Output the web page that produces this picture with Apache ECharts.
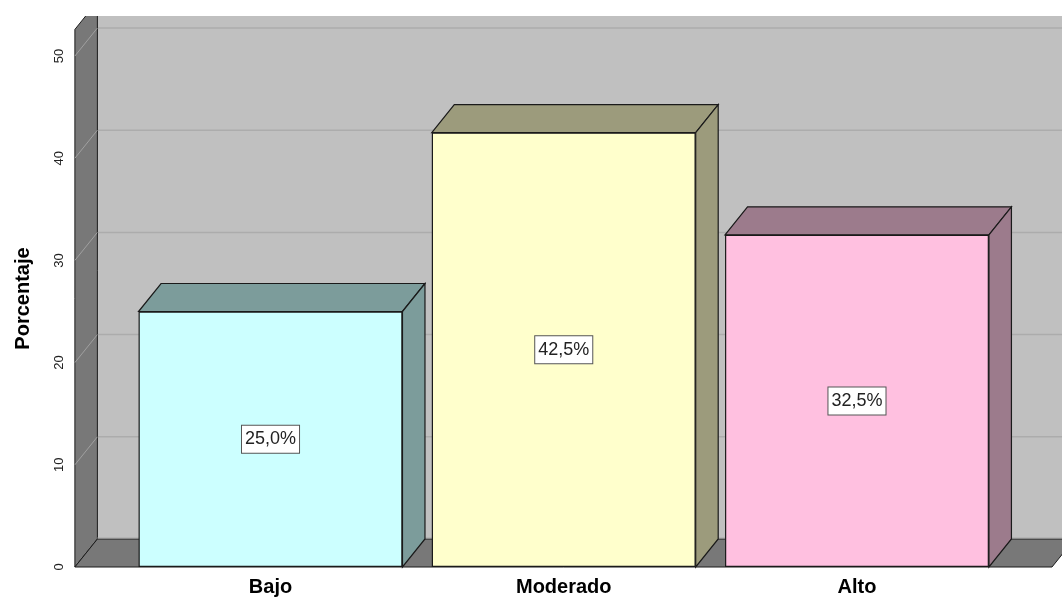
<!DOCTYPE html>
<html lang="es">
<head>
    <meta charset="UTF-8">
    <title>Porcentaje por nivel</title>
    <script src="https://cdn.jsdelivr.net/npm/echarts@6/dist/echarts.min.js"></script>
    <style>
        html, body { margin: 0; padding: 0; background: #fff; }
        #chart { width: 1062px; height: 597px; }
    </style>
</head>
<body>
    <div id="chart"></div>
    <script>
        // datos
        const categorias = ['Bajo', 'Moderado', 'Alto'];
        const porcentajes = [25.0, 42.5, 32.5];
        const ticksY = [0, 10, 20, 30, 40, 50];

        // colores: cara frontal / caras laterales
        const colorFrente = ['#ccffff', '#ffffcc', '#ffc0e0'];
        const colorLado = ['#7c9c9b', '#9c9b7c', '#9c7b8c'];

        // desplazamiento de profundidad (pseudo 3D)
        const DX = 22.5, DY = -28;
        const EXTRA_IZQ = 49, EXTRA_DER = 48.4;

        const chart = echarts.init(document.getElementById('chart'));

        // paredes y piso
        function renderParedes(params, api) {
            const cs = params.coordSys;
            const y0 = api.coord([0, 0])[1];
            const yTop = api.coord([0, 52.6])[1];
            const xl = cs.x - EXTRA_IZQ;
            const xr = cs.x + cs.width + EXTRA_DER;
            const children = [];
            // pared de fondo
            children.push({
                type: 'rect',
                shape: { x: xl + DX, y: yTop + DY, width: xr - xl + 40, height: y0 - yTop },
                style: { fill: '#c0c0c0', stroke: null }
            });
            ticksY.slice(1).forEach(v => {
                const y = api.coord([0, v])[1];
                children.push({
                    type: 'line',
                    shape: { x1: xl + DX, y1: y + DY, x2: xr + DX + 40, y2: y + DY },
                    style: { stroke: '#acacac', lineWidth: 1.5 }
                });
            });
            // pared izquierda
            children.push({
                type: 'polygon',
                shape: { points: [[xl, y0], [xl, yTop], [xl + DX, yTop + DY], [xl + DX, y0 + DY]] },
                style: { fill: '#787878', stroke: '#1a1a1a', lineWidth: 1 }
            });
            ticksY.slice(1).forEach(v => {
                const y = api.coord([0, v])[1];
                children.push({
                    type: 'line',
                    shape: { x1: xl, y1: y, x2: xl + DX, y2: y + DY },
                    style: { stroke: '#a0a0a0', lineWidth: 1 }
                });
            });
            // piso
            children.push({
                type: 'polygon',
                shape: { points: [[xl, y0], [xl + DX, y0 + DY], [xr + DX, y0 + DY], [xr, y0]] },
                style: { fill: '#787878', stroke: '#1a1a1a', lineWidth: 1 }
            });
            children.push({
                type: 'line',
                shape: { x1: xl + DX, y1: y0 + DY - 1, x2: xr + DX + 40, y2: y0 + DY - 1 },
                style: { stroke: '#a8a8a8', lineWidth: 1 }
            });
            return { type: 'group', children: children };
        }

        // caras superior y lateral de cada barra
        function renderCaras(params, api) {
            const i = api.value(0);
            const p = api.coord([i, api.value(1)]);
            const y0 = api.coord([i, 0])[1];
            const w = api.size([1, 0])[0] * 0.9;
            const xl = p[0] - w / 2, xr = p[0] + w / 2, yt = p[1];
            const estilo = { fill: colorLado[i], stroke: '#1a1a1a', lineWidth: 1.2 };
            return {
                type: 'group',
                children: [
                    {
                        type: 'polygon',
                        shape: { points: [[xl, yt], [xl + DX, yt + DY], [xr + DX, yt + DY], [xr, yt]] },
                        style: estilo
                    },
                    {
                        type: 'polygon',
                        shape: { points: [[xr, yt], [xr + DX, yt + DY], [xr + DX, y0 + DY], [xr, y0]] },
                        style: estilo
                    }
                ]
            };
        }

        const option = {
            animation: false,
            grid: { left: 123.9, right: 58.4, top: 56, bottom: 28.5 },
            xAxis: {
                type: 'category',
                data: categorias,
                axisLine: { show: false },
                axisTick: { show: false },
                axisLabel: {
                    margin: 10,
                    fontSize: 20,
                    fontWeight: 'bold',
                    color: '#000',
                    fontFamily: 'Liberation Sans, Arial, sans-serif'
                }
            },
            yAxis: {
                type: 'value',
                min: 0,
                max: 50,
                interval: 10,
                offset: EXTRA_IZQ,
                name: 'Porcentaje',
                nameLocation: 'middle',
                nameRotate: 90,
                nameGap: 41,
                nameTextStyle: {
                    fontSize: 20,
                    fontWeight: 'bold',
                    color: '#000',
                    fontFamily: 'Liberation Sans, Arial, sans-serif',
                    padding: [0, 0, 0, 26]
                },
                axisLine: { show: false },
                axisTick: { show: false },
                splitLine: { show: false },
                axisLabel: {
                    rotate: 90,
                    margin: 9,
                    fontSize: 13,
                    color: '#222',
                    fontFamily: 'Liberation Sans, Arial, sans-serif'
                }
            },
            graphic: [{
                type: 'rect',
                shape: { x: 0, y: 0, width: 1062, height: 16 },
                style: { fill: '#fff' },
                z: 100
            }],
            series: [
                {
                    type: 'custom',
                    renderItem: renderParedes,
                    data: [[0, 0]],
                    z: 1,
                    silent: true
                },
                {
                    type: 'custom',
                    renderItem: renderCaras,
                    data: porcentajes.map((v, i) => [i, v]),
                    z: 2
                },
                {
                    type: 'bar',
                    data: porcentajes.map((v, i) => ({ value: v, itemStyle: { color: colorFrente[i] } })),
                    barWidth: '90%',
                    z: 3,
                    itemStyle: { borderColor: '#1a1a1a', borderWidth: 1.2 },
                    label: {
                        show: true,
                        position: 'inside',
                        formatter: p => p.value.toFixed(1).replace('.', ',') + '%',
                        fontSize: 18,
                        color: '#222',
                        fontFamily: 'Liberation Sans, Arial, sans-serif',
                        backgroundColor: '#fff',
                        borderColor: '#555',
                        borderWidth: 1,
                        padding: [5, 3, 4, 3]
                    }
                }
            ]
        };

        chart.setOption(option);
    </script>
</body>
</html>
